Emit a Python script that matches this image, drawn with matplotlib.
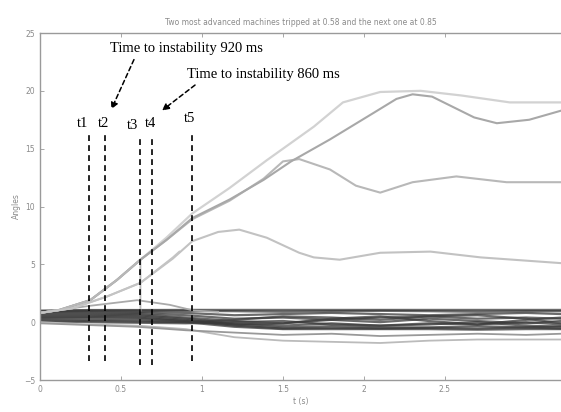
import matplotlib
matplotlib.use("Agg")
import matplotlib.pyplot as plt

# ---------------- data ----------------
title = "Two most advanced machines tripped at 0.58 and the next one at 0.85"

# unstable machines (t in s, angle)
r_t = [0, 0.12, 0.31, 0.475, 0.62, 0.78, 0.94, 1.17, 1.4, 1.69, 1.87, 2.1, 2.35, 2.6, 2.9, 3.22]
r_y = [0.8, 1.06, 1.9, 3.65, 5.4, 7.3, 9.4, 11.6, 14.0, 16.9, 19.0, 19.9, 20.0, 19.6, 19.0, 19.0]

p_t = [0, 0.12, 0.31, 0.475, 0.62, 0.78, 0.94, 1.17, 1.38, 1.55, 1.79, 2.06, 2.2, 2.3, 2.42, 2.55, 2.68, 2.82, 3.02, 3.22]
p_y = [0.8, 1.06, 1.9, 3.65, 5.4, 7.1, 9.0, 10.6, 12.3, 13.9, 15.8, 18.1, 19.3, 19.7, 19.5, 18.6, 17.7, 17.2, 17.5, 18.3]

q_t = [0, 0.12, 0.31, 0.475, 0.62, 0.78, 0.94, 1.17, 1.38, 1.5, 1.6, 1.79, 1.95, 2.1, 2.3, 2.57, 2.88, 3.22]
q_y = [0.8, 1.06, 1.9, 3.65, 5.4, 7.1, 8.9, 10.5, 12.4, 13.9, 14.1, 13.2, 11.8, 11.2, 12.1, 12.6, 12.1, 12.1]

s_t = [0, 0.2, 0.41, 0.62, 0.82, 0.94, 1.1, 1.23, 1.4, 1.6, 1.69, 1.85, 2.1, 2.41, 2.72, 3.22]
s_y = [0.8, 1.2, 2.2, 3.4, 5.5, 7.0, 7.8, 8.0, 7.3, 6.0, 5.6, 5.4, 6.0, 6.1, 5.6, 5.1]

# tripped machines
a_t = [0, 0.12, 0.31, 0.475, 0.62, 0.62]
a_y = [0.8, 1.06, 1.9, 3.65, 5.4, 1.0]
b_t = [0, 0.2, 0.41, 0.62, 0.82, 0.86]
b_y = [0.8, 1.2, 2.2, 3.4, 5.6, 6.1]

# small swing machine
h_t = [0, 0.3, 0.6, 0.8, 0.95, 1.1]
h_y = [0.8, 1.4, 1.9, 1.5, 1.0, 0.9]

# bundle of stable machines
bt = [0, 0.3, 0.6, 0.9, 1.2, 1.5, 1.8, 2.1, 2.4, 2.7, 3.0, 3.22]
bundle = [
    [1.0, 1.05, 1.05, 1.06, 1.06, 1.06, 1.06, 1.06, 1.06, 1.06, 1.06, 1.06],
    [0.95, 1.0, 1.0, 0.98, 0.95, 0.9, 0.95, 0.98, 0.95, 0.9, 0.95, 0.95],
    [0.9, 0.95, 0.9, 0.8, 0.6, 0.7, 0.8, 0.7, 0.6, 0.7, 0.8, 0.7],
    [0.85, 0.85, 0.8, 0.6, 0.3, 0.4, 0.2, 0.4, 0.5, 0.3, 0.4, 0.3],
    [0.75, 0.75, 0.7, 0.4, 0.1, -0.1, 0.2, 0.0, 0.3, 0.1, -0.1, 0.1],
    [0.65, 0.65, 0.6, 0.3, -0.1, -0.3, -0.1, -0.3, -0.1, -0.2, 0.0, -0.2],
    [0.55, 0.55, 0.5, 0.2, -0.2, -0.45, -0.35, -0.45, -0.45, -0.35, -0.45, -0.35],
    [0.45, 0.45, 0.4, 0.1, -0.3, -0.55, -0.5, -0.55, -0.5, -0.55, -0.45, -0.55],
    [0.35, 0.35, 0.3, 0.1, -0.2, -0.1, 0.3, 0.5, 0.1, -0.2, 0.2, 0.4],
    [0.25, 0.2, 0.15, 0.0, 0.2, 0.5, 0.4, 0.2, 0.5, 0.6, 0.3, -0.1],
    [0.15, 0.1, 0.05, 0.0, -0.4, -0.6, -0.6, -0.6, -0.6, -0.65, -0.6, -0.6],
    [0.05, 0.0, -0.05, -0.1, 0.0, 0.1, -0.2, -0.3, -0.2, 0.0, -0.3, -0.4],
]
low_t = [0, 0.3, 0.6, 0.9, 1.2, 1.5, 1.8, 2.1, 2.4, 2.7, 3.0, 3.22]
low1 = [0.0, -0.2, -0.3, -0.6, -1.3, -1.6, -1.7, -1.8, -1.6, -1.5, -1.5, -1.5]
low2 = [-0.1, -0.25, -0.4, -0.7, -0.9, -1.1, -1.0, -1.2, -1.1, -1.0, -1.1, -1.0]

mark_x = [0.30, 0.40, 0.62, 0.69, 0.94]
mark_lo = [-3.4, -3.4, -3.7, -3.7, -3.4]
mark_hi = [16.2, 16.2, 16.0, 16.0, 16.2]
mark_labels = ["t1", "t2", "t3", "t4", "t5"]
mark_lab_x = [0.265, 0.395, 0.574, 0.685, 0.926]
mark_lab_y = [17.2, 17.2, 17.0, 17.2, 17.6]

ann_texts = ["Time to instability 920 ms", "Time to instability 860 ms"]
ann_text_xy = [(0.43, 23.7), (0.91, 21.4)]
ann_tail = [(0.58, 22.7), (0.957, 20.5)]
ann_head = [(0.44, 18.4), (0.753, 18.3)]

xticks = [0, 0.5, 1, 1.5, 2, 2.5]
xticklabels = ["0", "0.5", "1", "1.5", "2", "2.5"]
yticks = [-5, 0, 5, 10, 15, 20, 25]

# ---------------- figure ----------------
W, H = 561, 412
fig = plt.figure(figsize=(W / 100, H / 100), dpi=100)
ax = fig.add_axes([40 / W, (H - 380) / H, 521 / W, 347 / H])
ax.set_xlim(0, 521 / 162)
ax.set_ylim(-5, 25)

# bundle
for yy in bundle:
    ax.plot(bt, yy, color="#3a3a3a", lw=1.6, alpha=0.75, solid_capstyle="butt")
ax.plot(low_t, low1, color="#bbbbbb", lw=1.3)
ax.plot(low_t, low2, color="#999999", lw=1.3)
ax.plot(h_t, h_y, color="#aaaaaa", lw=1.3)

# unstable curves
ax.plot(r_t, r_y, color="#d2d2d2", lw=1.6)
ax.plot(s_t, s_y, color="#c2c2c2", lw=1.5)
ax.plot(q_t, q_y, color="#b8b8b8", lw=1.5)
ax.plot(p_t, p_y, color="#a8a8a8", lw=1.5)
ax.plot(a_t, a_y, color="#b8b8b8", lw=1.3)
ax.plot(b_t, b_y, color="#c4c4c4", lw=1.3)

# markers
ax.vlines(mark_x, mark_lo, mark_hi, colors="black", linestyles=(0, (3.5, 2.5)), lw=1.2)
for lx, ly, lab in zip(mark_lab_x, mark_lab_y, mark_labels):
    ax.text(lx, ly, lab, ha="center", va="center", fontsize=10.5,
            family="Liberation Serif", color="black")
for txt, xy, tail, head in zip(ann_texts, ann_text_xy, ann_tail, ann_head):
    ax.text(xy[0], xy[1], txt, ha="left", va="center", fontsize=10.5,
            family="Liberation Serif", color="black")
    ax.annotate("", xy=head, xytext=tail,
                arrowprops=dict(arrowstyle="-|>", linestyle=(0, (3, 2)), lw=1.1,
                                color="black", mutation_scale=10, shrinkA=0, shrinkB=0))

# axes styling
ax.set_xticks(xticks)
ax.set_xticklabels(xticklabels)
ax.set_yticks(yticks)
ax.tick_params(direction="in", length=3, width=0.6, colors="#999999", labelsize=5.5,
               labelcolor="#8a8a8a", top=True)
for side in ["left", "top", "bottom"]:
    ax.spines[side].set_color("#9a9a9a")
    ax.spines[side].set_linewidth(1.0)
ax.spines["right"].set_visible(False)
ax.set_xlabel("t (s)", fontsize=5.5, color="#8a8a8a", labelpad=2)
ax.set_ylabel("Angles", fontsize=5.5, color="#8a8a8a", labelpad=2)
ax.set_title(title, fontsize=5.5, color="#8a8a8a", pad=6)

fig.savefig("out.png", dpi=100)
